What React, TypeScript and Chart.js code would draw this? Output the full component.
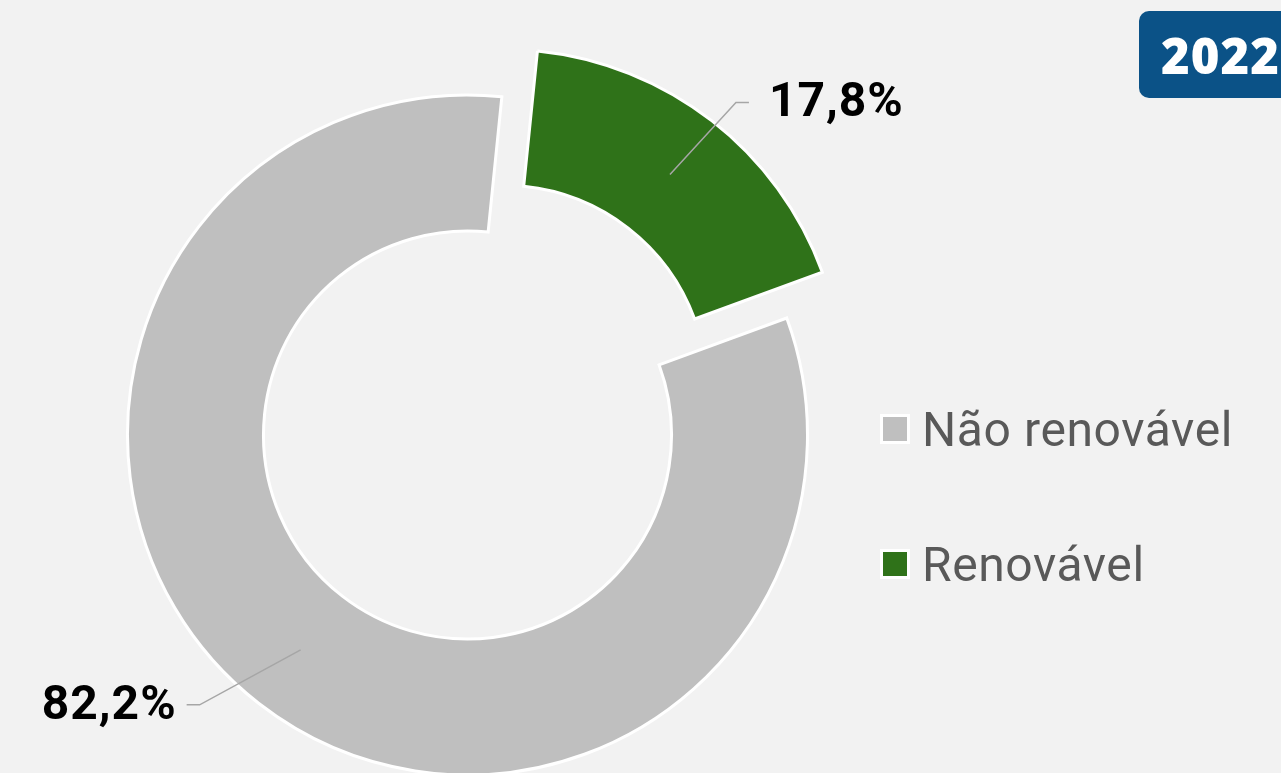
import React, { useEffect, useRef } from "react";
import { Chart, registerables } from "chart.js";

Chart.register(...registerables);

// ---- data ----
const categories = ["Renovável", "Não renovável"];
const values = [17.8, 82.2];
const legendOrder = [1, 0];
const yearLabel = "2022";

// ---- styles ----
const sliceColors = ["#2f7219", "#bfbfbf"];
const explode = [58, 0];
const labelElbow = [
  [66, -72],
  [-101, 55],
];
const BG = "#f2f2f2";

const fmt = (v: number) => v.toFixed(1).replace(".", ",") + "%";

const explodePlugin = {
  id: "explodeDraw",
  beforeDatasetDraw(chart: any, args: any) {
    const ctx = chart.ctx;
    const meta = args.meta;
    meta.data.forEach((arc: any, i: number) => {
      const p = arc.getProps(["startAngle", "endAngle"], true);
      const mid = (p.startAngle + p.endAngle) / 2;
      const d = explode[i] || 0;
      ctx.save();
      ctx.translate(Math.cos(mid) * d, Math.sin(mid) * d);
      arc.draw(ctx, chart.chartArea);
      ctx.restore();
    });
    return false;
  },
};

const leaderPlugin = {
  id: "leaders",
  afterDatasetsDraw(chart: any) {
    const ctx = chart.ctx;
    const meta = chart.getDatasetMeta(0);
    meta.data.forEach((arc: any, i: number) => {
      const p = arc.getProps(["x", "y", "startAngle", "endAngle", "innerRadius", "outerRadius"], true);
      const mid = (p.startAngle + p.endAngle) / 2;
      const r = (explode[i] || 0) + (p.innerRadius + p.outerRadius) / 2;
      const mx = p.x + Math.cos(mid) * r;
      const my = p.y + Math.sin(mid) * r;
      const ex = mx + labelElbow[i][0];
      const ey = my + labelElbow[i][1];
      const side = Math.cos(mid) >= 0 ? 1 : -1;
      const hx = ex + side * 13;
      ctx.save();
      ctx.strokeStyle = "#a6a6a6";
      ctx.lineWidth = 1.5;
      ctx.beginPath();
      ctx.moveTo(mx, my);
      ctx.lineTo(ex, ey);
      ctx.lineTo(hx, ey);
      ctx.stroke();
      ctx.fillStyle = "#000000";
      ctx.font = "bold 48px Roboto";
      try {
        (ctx as any).letterSpacing = "1px";
      } catch (e) {}
      ctx.textBaseline = "middle";
      ctx.textAlign = side > 0 ? "left" : "right";
      ctx.fillText(fmt(values[i]), hx + side * (side > 0 ? 20 : 10), ey + 2);
      ctx.restore();
    });
  },
};

export default function App() {
  const ref = useRef<HTMLCanvasElement | null>(null);

  useEffect(() => {
    document.body.style.margin = "0";
    const chart = new Chart(ref.current as HTMLCanvasElement, {
      type: "doughnut",
      data: {
        labels: categories,
        datasets: [
          {
            data: values,
            backgroundColor: sliceColors,
            borderColor: "#ffffff",
            borderWidth: 3,
            borderJoinStyle: "miter",
          } as any,
        ],
      },
      options: {
        responsive: false,
        animation: false,
        rotation: 5.8,
        radius: 340,
        cutout: "60%",
        layout: { padding: { left: 0, right: 346, top: 97, bottom: 0 } },
        plugins: {
          legend: { display: false },
          tooltip: { enabled: false },
        },
      } as any,
      plugins: [explodePlugin, leaderPlugin],
    });
    return () => chart.destroy();
  }, []);

  return (
    <div
      style={{
        position: "fixed",
        left: 0,
        top: 0,
        width: 1281,
        height: 773,
        background: BG,
        overflow: "hidden",
      }}
    >
      <canvas
        ref={ref}
        width={1281}
        height={773}
        style={{ position: "absolute", left: 0, top: 0, width: 1281, height: 773 }}
      />
      {legendOrder.map((idx, row) => (
        <div
          key={idx}
          style={{
            position: "absolute",
            left: 880,
            top: 429 + row * 135 - 30,
            height: 60,
            display: "flex",
            alignItems: "center",
            whiteSpace: "nowrap",
          }}
        >
          <div
            style={{
              width: 24,
              height: 24,
              border: "3px solid #ffffff",
              background: sliceColors[idx],
              marginRight: 12,
            }}
          />
          <span style={{ font: "48px Roboto", letterSpacing: 0.6, color: "#595959" }}>
            {categories[idx]}
          </span>
        </div>
      ))}
      <div
        style={{
          position: "absolute",
          left: 1139,
          top: 11,
          width: 170,
          height: 87,
          borderRadius: 10,
          background: "#0b5287",
          display: "flex",
          alignItems: "center",
          paddingLeft: 22,
          boxSizing: "border-box",
          color: "#ffffff",
          font: "800 49px 'Open Sans'",
          letterSpacing: 1,
        }}
      >
        {yearLabel}
      </div>
    </div>
  );
}
